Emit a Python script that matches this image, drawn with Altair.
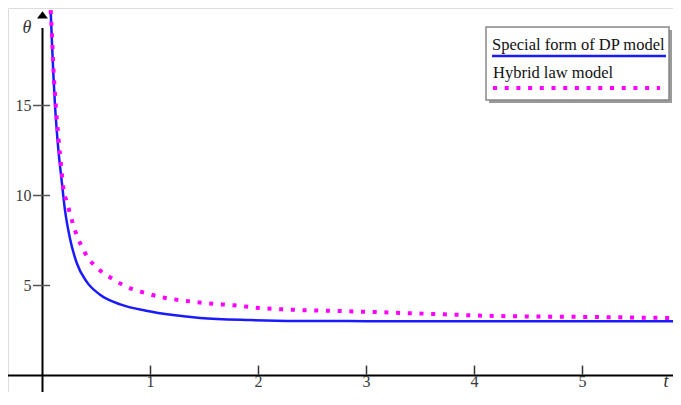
import altair as alt
import pandas as pd

# ---- data ----
blue_t = [0.076, 0.09, 0.10, 0.116, 0.146, 0.178, 0.208, 0.255, 0.317, 0.41, 0.53,
          0.72, 0.96, 1.21, 1.46, 1.92, 2.35, 3.0, 4.0, 5.0, 5.95]
blue_theta = [20.2, 18.2, 16.8, 15.0, 12.6, 10.8, 9.2, 7.6, 6.25, 5.2, 4.5,
              3.95, 3.6, 3.36, 3.2, 3.08, 3.03, 3.02, 3.01, 3.01, 3.01]
pink_t = [0.076, 0.09, 0.10, 0.116, 0.146, 0.178, 0.193, 0.224, 0.255, 0.285, 0.363,
          0.42, 0.486, 0.56, 0.656, 0.75, 0.93, 1.13, 1.335, 1.55, 1.77, 2.01, 2.29,
          2.94, 3.56, 4.24, 5.1, 5.95]
pink_theta = [20.3, 18.6, 17.2, 15.6, 13.3, 11.3, 10.4, 9.66, 9.0, 8.36, 7.16,
              6.56, 6.08, 5.71, 5.34, 5.01, 4.62, 4.32, 4.14, 4.0, 3.9, 3.75, 3.66,
              3.55, 3.43, 3.3, 3.25, 3.18]
x_ticks = [1, 2, 3, 4, 5]
y_ticks = [5, 10, 15]
series_names = ["Special form of DP model", "Hybrid law model"]
x_title = "t"
y_title = "θ"

# ---- layout ----
W, H = 665, 384
x_dom = [-0.3194, 5.838]
y_dom = [-0.9167, 20.417]
xs = alt.Scale(domain=x_dom, nice=False, zero=False)
ys = alt.Scale(domain=y_dom, nice=False, zero=False)
FONT = "Liberation Serif"
BLUE = "#1a1aff"
PINK = "#ff00ff"

one = pd.DataFrame({"k": [0]})

def X(field=None, datum=None):
    if field is not None:
        return alt.X(field, type="quantitative", scale=xs, axis=None)
    return alt.X(datum=datum, type="quantitative", scale=xs, axis=None)

def Y(field=None, datum=None):
    if field is not None:
        return alt.Y(field, type="quantitative", scale=ys, axis=None)
    return alt.Y(datum=datum, type="quantitative", scale=ys, axis=None)

# axes lines
x_axis = alt.Chart(one).mark_rule(color="black", strokeWidth=2).encode(
    x=alt.value(0), x2=alt.value(W), y=Y(datum=0))
y_axis = alt.Chart(one).mark_rule(color="black", strokeWidth=2).encode(
    x=X(datum=0), y=alt.value(H), y2=alt.Y2(datum=19.9))
arrow = alt.Chart(one).mark_point(
    shape="M0,-0.66L1,0.66L-1,0.66Z", filled=True, color="black", opacity=1, size=120
).encode(x=X(datum=0), y=Y(datum=20.03))

xt = pd.DataFrame({"v": x_ticks, "lab": [str(v) for v in x_ticks]})
yt = pd.DataFrame({"v": y_ticks, "lab": [str(v) for v in y_ticks]})

x_tick_marks = alt.Chart(xt).mark_rule(color="#333", strokeWidth=1.5).encode(
    x=X("v"), y=Y(datum=0.05), y2=alt.Y2(datum=0.55))
y_tick_marks = alt.Chart(yt).mark_rule(color="#555", strokeWidth=1.5).encode(
    y=Y("v"), x=X(datum=-0.088), x2=alt.X2(datum=0.07))
x_tick_labels = alt.Chart(xt).mark_text(
    font=FONT, fontSize=16, color="#3a3a3a", baseline="alphabetic", align="center"
).encode(x=X("v"), y=alt.value(H - 5), text="lab:N")
y_tick_labels = alt.Chart(yt).mark_text(
    font=FONT, fontSize=16, color="#3a3a3a", baseline="middle", align="right", dx=-11
).encode(x=X(datum=0), y=Y("v"), text="lab:N")

t_label = alt.Chart(pd.DataFrame({"lab": [x_title]})).mark_text(
    font=FONT, fontSize=18, fontStyle="italic", color="#333", align="center", baseline="alphabetic"
).encode(x=alt.value(658), y=alt.value(H - 5), text="lab:N")
th_label = alt.Chart(pd.DataFrame({"lab": [y_title]})).mark_text(
    font=FONT, fontSize=18, fontStyle="italic", color="#333", align="center", baseline="middle"
).encode(x=alt.value(19), y=alt.value(20), text="lab:N")

# curves
blue_df = pd.DataFrame({"t": blue_t, "theta": blue_theta})
pink_df = pd.DataFrame({"t": pink_t, "theta": pink_theta})
blue_line = alt.Chart(blue_df).mark_line(
    color=BLUE, strokeWidth=2.5, interpolate="monotone", clip=True
).encode(x=X("t"), y=Y("theta"), order="t:Q")
pink_line = alt.Chart(pink_df).mark_line(
    color=PINK, strokeWidth=4, strokeDash=[4, 7.7], strokeCap="butt",
    interpolate="monotone", clip=True
).encode(x=X("t"), y=Y("theta"), order="t:Q")

# legend box
shadow = alt.Chart(one).mark_rect(fill="#9a9a9a").encode(
    x=alt.value(481), x2=alt.value(664), y=alt.value(22), y2=alt.value(95))
box = alt.Chart(one).mark_rect(fill="white", stroke="#888", strokeWidth=1.5).encode(
    x=alt.value(478), x2=alt.value(661), y=alt.value(19), y2=alt.value(92))
leg1_text = alt.Chart(pd.DataFrame({"lab": [series_names[0]]})).mark_text(
    font=FONT, fontSize=16.5, color="#111", align="left", baseline="middle"
).encode(x=alt.value(484), y=alt.value(37), text="lab:N")
leg2_text = alt.Chart(pd.DataFrame({"lab": [series_names[1]]})).mark_text(
    font=FONT, fontSize=16.5, color="#111", align="left", baseline="middle"
).encode(x=alt.value(485), y=alt.value(65), text="lab:N")
leg1_line = alt.Chart(one).mark_rule(color=BLUE, strokeWidth=2.5).encode(
    x=alt.value(484), x2=alt.value(658), y=alt.value(48))
leg2_line = alt.Chart(one).mark_rule(
    color=PINK, strokeWidth=4, strokeDash=[4, 7.7], strokeCap="butt").encode(
    x=alt.value(485), x2=alt.value(652), y=alt.value(80))

chart = alt.layer(
    x_axis, y_axis, arrow, x_tick_marks, y_tick_marks, x_tick_labels, y_tick_labels,
    t_label, th_label, blue_line, pink_line,
    shadow, box, leg1_text, leg2_text, leg1_line, leg2_line
).properties(
    width=W, height=H, autosize=alt.AutoSizeParams(type="none"), padding=0
).configure_view(stroke=None).configure(background="white")

chart.save("out.html", embed_options={"renderer": "svg", "actions": False})
